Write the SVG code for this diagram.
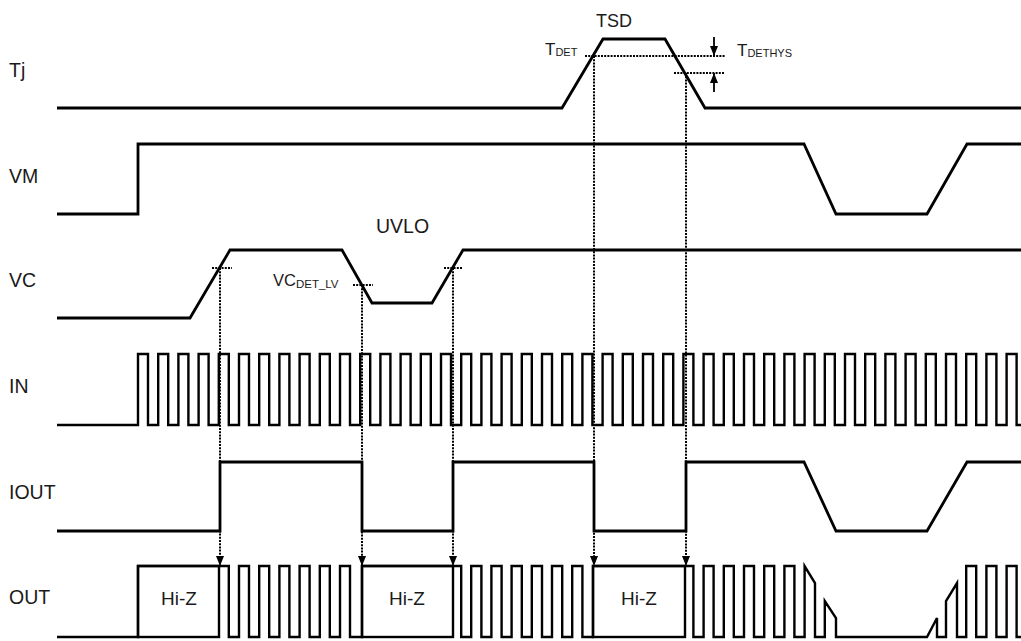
<svg xmlns="http://www.w3.org/2000/svg" width="1021" height="641" viewBox="0 0 1021 641">
<style>
.sig{fill:none;stroke:#000;stroke-width:2.8;stroke-linejoin:miter;stroke-linecap:butt}
.pulse{fill:none;stroke:#000;stroke-width:2.4;stroke-linejoin:miter}
.box{fill:none;stroke:#000;stroke-width:2.4}
.dot{fill:none;stroke:#000;stroke-width:2;stroke-dasharray:2 1.2}
.arr{fill:none;stroke:#000;stroke-width:1.8}
.lbl{font-family:"Liberation Sans",Arial,sans-serif;font-size:19.5px;fill:#1a1a1a}
.hz{font-family:"Liberation Sans",Arial,sans-serif;font-size:19px;fill:#1a1a1a;text-anchor:middle}
.sm{font-family:"Liberation Sans",Arial,sans-serif;fill:#1a1a1a}
</style>
<defs>
<marker id="ah" markerUnits="userSpaceOnUse" markerWidth="11" markerHeight="8" refX="10" refY="4" orient="auto" viewBox="0 0 11 8">
<path d="M0,0 L10,4 L0,8 z" fill="#000"/>
</marker>
</defs>
<rect width="1021" height="641" fill="#fff"/>

<g id="labels">
<text class="lbl" x="9" y="77">Tj</text>
<text class="lbl" x="9" y="183">VM</text>
<text class="lbl" x="9" y="287">VC</text>
<text class="lbl" x="9" y="393">IN</text>
<text class="lbl" x="9" y="499">IOUT</text>
<text class="lbl" x="9" y="604">OUT</text>
<text class="lbl" x="596" y="27" style="font-size:18px">TSD</text>
<text class="lbl" x="376" y="233">UVLO</text>
<text class="sm" x="273" y="286" style="font-size:16.5px">VC<tspan style="font-size:11.5px" dy="2">DET_LV</tspan></text>
<text class="sm" x="545" y="55" style="font-size:17px">T<tspan style="font-size:11px" dy="1">DET</tspan></text>
<text class="sm" x="737" y="56" style="font-size:17px">T<tspan style="font-size:11px" dy="1">DETHYS</tspan></text>
</g>

<g id="Tj">
<path class="sig" d="M57 108 H562 L603 39 H665 L705 108 H1021"/>
</g>

<g id="VM">
<path class="sig" d="M57 214 H138 V144 H804 L836 214 H927 L967 144 H1021"/>
</g>

<g id="VC">
<path class="sig" d="M57 318 H190 L230 250 H342 L372 303 H432 L463 250 H1021"/>
</g>

<g id="IN">
<path class="pulse" d="M57 425 H138 V354 h10 V425 H158.2 V354 h10 V425 H178.4 V354 h10 V425 H198.6 V354 h10 V425 H218.8 V354 h10 V425 H239 V354 h10 V425 H259.2 V354 h10 V425 H279.4 V354 h10 V425 H299.6 V354 h10 V425 H319.8 V354 h10 V425 H340 V354 h10 V425 H360.2 V354 h10 V425 H380.4 V354 h10 V425 H400.6 V354 h10 V425 H420.8 V354 h10 V425 H441 V354 h10 V425 H461.2 V354 h10 V425 H481.4 V354 h10 V425 H501.6 V354 h10 V425 H521.8 V354 h10 V425 H542 V354 h10 V425 H562.2 V354 h10 V425 H582.4 V354 h10 V425 H602.6 V354 h10 V425 H622.8 V354 h10 V425 H643 V354 h10 V425 H663.2 V354 h10 V425 H683.4 V354 h10 V425 H703.6 V354 h10 V425 H723.8 V354 h10 V425 H744 V354 h10 V425 H764.2 V354 h10 V425 H784.4 V354 h10 V425 H804.6 V354 h10 V425 H824.8 V354 h10 V425 H845 V354 h10 V425 H865.2 V354 h10 V425 H885.4 V354 h10 V425 H905.6 V354 h10 V425 H925.8 V354 h10 V425 H946 V354 h10 V425 H966.2 V354 h10 V425 H986.4 V354 h10 V425 H1006.6 V354 h10 V425 H1021"/>
</g>

<g id="IOUT">
<path class="sig" d="M57 531 H220 V462 H362 V531 H453 V462 H594 V531 H686 V462 H804 L836 531 H927 L967 462 H1021"/>
</g>

<g id="OUT">
<path class="pulse" d="M57 637 H138 V566 H228.8 V637 H239 V566 h10 V637 H259.2 V566 h10 V637 H279.4 V566 h10 V637 H299.6 V566 h10 V637 H319.8 V566 h10 V637 H340 V566 h10 V637 H362 V566 H461.2 V637 H471.2 V566 H481.4 V637 H491.4 V566 H501.6 V637 H511.6 V566 H521.8 V637 H531.8 V566 H542 V637 H552 V566 H562.2 V637 H572.2 V566 H582.4 V637 H593 V566 H693.4 V637 H703.6 V566 h10 V637 H723.8 V566 h10 V637 H744 V566 h10 V637 H764.2 V566 h10 V637 H784.4 V566 h10 V637 H804.6 V566 L815 583 V637 H824.8 V601 L836 618 V637 H927 L937 618 V637 H946 V601 L957 583 V637 H966.2 V566 h10 V637 H986.4 V566 h10 V637 H1006.6 V566 h10 V637 H1021"/>
<rect class="box" x="138" y="566" width="81" height="71"/>
<rect class="box" x="362" y="566" width="91" height="71"/>
<rect class="box" x="593" y="566" width="92" height="71"/>
<text class="hz" x="179" y="605">Hi-Z</text>
<text class="hz" x="407" y="605">Hi-Z</text>
<text class="hz" x="639" y="605">Hi-Z</text>
</g>

<g id="connectors">
<path class="dot" d="M212 268 H232"/>
<path class="dot" d="M220 268 V566" marker-end="url(#ah)"/>
<path class="dot" d="M353 285 H373"/>
<path class="dot" d="M362 285 V566" marker-end="url(#ah)"/>
<path class="dot" d="M444 268 H463"/>
<path class="dot" d="M453 268 V566" marker-end="url(#ah)"/>
<path class="dot" d="M585 56 H725"/>
<path class="dot" d="M594 56 V566" marker-end="url(#ah)"/>
<path class="dot" d="M674 73 H725"/>
<path class="dot" d="M686 73 V566" marker-end="url(#ah)"/>
<path class="arr" d="M714 37 V56" marker-end="url(#ah)"/>
<path class="arr" d="M714 92 V73" marker-end="url(#ah)"/>
</g>
</svg>
